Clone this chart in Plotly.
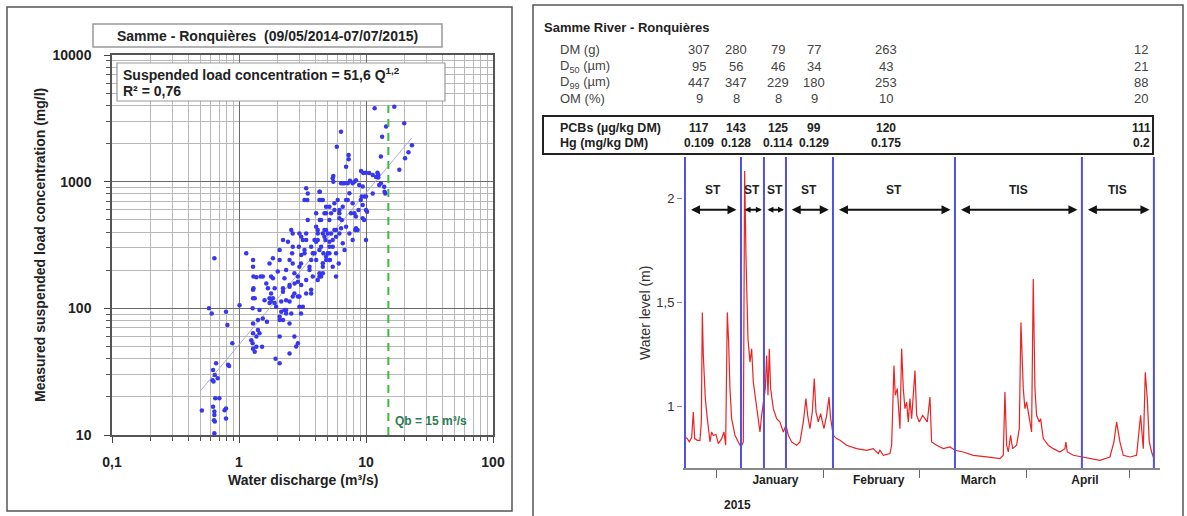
import pandas as pd
import plotly.graph_objects as go

W, H = 1187, 516
FONT = "Liberation Sans, Arial, sans-serif"


def px(x):
    return x / W


def py(y):
    return 1 - y / H


# ---------------- left panel: suspended load vs discharge ----------------
# (discharge m3/s, suspended load concentration mg/l)
ssc_samples = [
    (0.51, 15.6), (0.58, 100), (0.61, 91), (0.64, 248), (0.66, 36.8), (0.625, 32.6),
    (0.68, 28), (0.62, 27), (0.65, 19.5), (0.70, 19.5), (0.625, 16.7), (0.64, 15.3),
    (0.64, 14.4), (0.635, 13.1), (0.64, 10.3), (0.79, 16.2), (0.79, 13.5), (0.79, 94),
    (0.81, 74), (0.82, 35.8), (0.886, 53), (0.645, 29.8), (0.835, 35), (0.63, 26.4),
    (0.645, 12.8), (0.77, 15.7),
    (1.01, 106), (1.14, 272), (1.29, 241), (1.29, 213), (1.30, 178), (1.29, 140),
    (1.29, 120), (1.28, 100), (1.29, 76), (1.29, 63.5), (1.28, 53), (1.29, 48),
    (1.33, 45.5), (1.37, 49.8), (1.37, 59.8), (1.41, 67.5), (1.41, 81), (1.45, 63.5),
    (1.48, 178), (1.54, 178), (1.45, 97), (1.54, 83), (1.59, 116), (1.52, 49.8),
    (1.64, 157), (1.74, 226), (1.79, 178), (1.79, 131), (1.74, 120), (1.74, 110),
    (1.85, 120), (1.91, 110), (1.91, 144), (1.94, 40), (2.09, 36.8), (2.02, 195),
    (2.09, 241), (2.09, 60), (2.15, 94), (2.15, 113), (2.22, 81), (2.22, 135),
    (2.28, 97), (2.35, 116), (2.35, 91), (2.43, 336), (2.50, 76), (2.50, 153),
    (2.50, 44), (2.58, 415), (2.65, 390), (2.62, 272), (2.65, 226), (2.73, 189),
    (2.73, 131), (2.73, 60), (2.82, 50), (2.91, 162), (2.91, 124), (2.96, 306),
    (2.99, 390), (3.08, 226), (3.08, 91), (3.18, 103), (3.18, 346), (3.28, 272),
    (3.38, 167), (3.38, 390), (3.45, 717), (3.48, 808), (3.48, 499), (3.59, 213),
    (3.70, 131), (3.70, 306), (3.81, 272), (3.93, 346), (4.05, 441), (4.05, 241),
    (4.17, 390), (4.17, 346), (4.30, 189), (4.30, 717), (4.33, 833), (4.33, 499),
    (4.43, 306), (4.43, 178), (4.57, 390), (4.57, 213), (4.62, 272), (4.71, 415),
    (4.71, 563), (4.79, 346), (4.85, 241), (4.85, 634), (5.0, 390), (5.0, 272),
    (5.15, 306), (5.15, 499), (5.2, 241), (5.31, 563), (5.31, 390), (5.47, 346),
    (5.47, 213), (5.64, 415), (5.64, 598), (5.81, 178), (5.81, 272), (5.89, 1890),
    (5.99, 717), (6.10, 226), (6.17, 390), (6.17, 563), (6.36, 970), (6.36, 2480),
    (6.45, 499), (6.56, 634), (6.56, 326), (6.77, 289), (6.97, 441), (6.97, 1313),
    (7.18, 970), (7.18, 717), (7.30, 1623), (7.40, 390), (7.62, 563), (7.85, 675),
    (7.85, 346), (8.09, 1000), (8.23, 415), (8.33, 530), (8.59, 415), (8.74, 598),
    (8.84, 940), (9.1, 717), (9.25, 762), (9.52, 1170), (9.67, 499), (10.0, 346),
    (10.0, 762), (10.2, 580), (10.6, 1170), (11.3, 808), (11.7, 3790), (12.0, 1090),
    (12.5, 1130), (12.7, 940), (13.1, 1580), (13.4, 2260), (13.9, 910), (14.2, 808),
    (14.4, 2730), (16.7, 3900), (18.3, 1240), (20.0, 2890), (20.3, 1530), (21.6, 1710),
    (23.0, 1940),
    (1.37, 176), (1.30, 144), (1.33, 120), (1.79, 113), (1.69, 144), (1.85, 173),
    (1.85, 248), (2.09, 289), (2.22, 346), (2.65, 307), (2.50, 241), (2.35, 201),
    (2.28, 173), (2.22, 144), (1.96, 103), (2.50, 148), (2.74, 157), (2.65, 124),
    (2.99, 124), (3.09, 153), (2.91, 178), (2.99, 213), (3.09, 264), (3.28, 289),
    (3.38, 346), (3.09, 368), (3.28, 717), (3.38, 886), (4.30, 834), (4.43, 717),
    (4.05, 562), (4.43, 498), (4.85, 562), (5.15, 635), (5.64, 675), (6.17, 598),
    (6.97, 717), (7.40, 809), (7.85, 970), (6.76, 970), (5.47, 1063), (4.17, 415),
    (4.05, 336), (4.30, 289), (4.71, 368), (4.85, 415), (5.15, 336), (5.15, 272),
    (5.47, 307), (5.81, 368), (5.81, 415), (6.36, 428), (4.85, 256), (4.57, 227),
    (5.15, 241), (3.93, 272), (3.70, 241), (3.59, 201), (3.81, 178), (4.30, 178),
    (4.57, 189), (4.17, 167), (3.70, 140), (3.38, 131), (2.99, 103), (2.58, 91),
    (2.35, 97), (2.09, 86),
    (9.14, 1213), (10.0, 1178), (11.3, 1129), (12.3, 1178), (12.5, 1077), (13.1, 970),
    (14.0, 834), (5.53, 1110), (5.53, 1000), (6.56, 970), (7.48, 1018), (8.34, 1026),
    (9.42, 914), (9.71, 762), (9.42, 655), (8.10, 562), (9.42, 514), (10.0, 598),
    (8.34, 428), (6.17, 514), (4.57, 717), (7.30, 1500),
    (1.66, 78.5), (1.25, 56), (2.09, 81), (2.50, 113), (2.91, 53),
]
discharge = [q for q, _ in ssc_samples]
concentration = [c for _, c in ssc_samples]

# power-law rating: C = a * Q^b
fit_a, fit_b = 51.6, 1.2
fit_q = [0.5, 23.0]
qb = 15
qb_span = [10, 4000]

# ---------------- right panel: water level record ----------------
level_day = [  # days after 1 Jan 2015
    -9.30, -8.62, -8.04, -7.36, -6.88, -6.49, -5.72, -4.94, -4.55, -4.26,
    -3.97, -3.68, -3.39, -2.81, -2.03, -1.55, -1.07, -0.29, 0.39, 1.36,
    2.03, 2.52, 3.00, 3.39, 3.78, 4.26, 5.23, 6.20, 6.98, 7.66,
    8.04, 8.43, 9.01, 9.59, 10.08, 10.56, 11.53, 12.50, 12.98, 13.66,
    14.05, 14.44, 14.83, 15.21, 15.60, 16.38, 17.35, 18.31, 19.28, 20.06,
    20.74, 21.71, 23.16, 24.13, 25.10, 25.87, 26.36, 27.03, 27.71, 28.29,
    28.78, 29.46, 30.14, 31.10, 31.88, 32.56, 33.05, 33.81, 34.78, 35.76,
    37.69, 40.60, 43.50, 45.44, 46.90, 47.38, 48.35, 50.29, 50.78, 51.45,
    51.83, 52.42, 53.20, 53.69, 54.17, 54.65, 55.14, 55.62, 56.10, 56.59,
    57.56, 58.05, 58.82, 59.80, 60.47, 61.14, 61.92, 62.40, 63.86, 65.79,
    67.73, 69.19, 71.60, 74.50, 78.40, 82.27, 83.24, 83.72, 84.21, 84.69,
    85.37, 85.95, 87.11, 87.89, 88.37, 88.76, 89.05, 89.53, 90.02, 90.50,
    90.99, 91.47, 91.95, 92.44, 92.92, 93.70, 94.09, 94.86, 96.32, 97.77,
    99.71, 101.16, 101.45, 101.84, 103.58, 106.10, 108.43, 111.34, 114.24, 115.41,
    116.18, 116.67, 117.15, 118.12, 120.06, 122.00, 123.16, 123.94, 124.52, 125.10,
    125.68, 126.36, 127.03,
]
level_m = [
    0.853, 0.845, 0.830, 0.850, 0.973, 0.845, 0.837, 0.837, 0.925, 1.451,
    1.244, 1.120, 1.037, 0.941, 0.829, 0.877, 0.860, 0.865, 0.821, 0.845,
    0.877, 0.813, 1.451, 1.308, 1.085, 0.941, 0.861, 0.829, 0.805, 0.829,
    2.130, 1.720, 1.324, 1.212, 1.276, 1.117, 0.989, 0.877, 0.957, 1.037,
    1.085, 1.244, 1.053, 1.276, 1.085, 0.989, 0.941, 0.925, 0.877, 0.909,
    0.861, 0.829, 0.813, 0.829, 0.925, 1.037, 0.957, 0.893, 0.973, 1.133,
    0.973, 0.925, 0.965, 0.893, 0.957, 1.045, 0.941, 0.861, 0.845, 0.837,
    0.813, 0.797, 0.789, 0.797, 0.773, 0.789, 0.765, 0.773, 0.813, 1.196,
    1.053, 1.085, 0.893, 1.276, 1.085, 0.989, 1.020, 0.925, 1.037, 0.941,
    1.172, 0.957, 0.925, 0.957, 0.941, 0.925, 1.045, 0.829, 0.813, 0.797,
    0.805, 0.789, 0.781, 0.765, 0.757, 0.749, 0.765, 1.069, 0.813, 0.781,
    0.861, 0.797, 0.813, 0.893, 1.403, 1.244, 1.085, 0.989, 1.021, 0.973,
    0.925, 0.877, 1.611, 1.085, 0.957, 0.925, 0.941, 0.845, 0.813, 0.797,
    0.781, 0.797, 0.829, 0.781, 0.765, 0.757, 0.749, 0.741, 0.757, 0.829,
    0.925, 0.877, 0.829, 0.765, 0.757, 0.765, 0.957, 0.797, 1.164, 1.037,
    0.829, 0.781, 0.749,
]
assert len(level_day) == len(level_m)

# sampling period boundaries (days after 1 Jan 2015) and sampler type
period_bounds = [-9.30, 6.98, 13.66, 20.06, 33.72, 69.19, 106.10, 127.03]
period_type = ["ST", "ST", "ST", "ST", "ST", "TIS", "TIS"]

# sediment characteristics per sample
row_names = ["DM (g)", "D<sub>50</sub> (µm)", "D<sub>99</sub> (µm)", "OM (%)"]
dm_g = ["307", "280", "79", "77", "263", "12"]
d50_um = ["95", "56", "46", "34", "43", "21"]
d99_um = ["447", "347", "229", "180", "253", "88"]
om_pct = ["9", "8", "8", "9", "10", "20"]
pcb_ugkg = ["117", "143", "125", "99", "120", "111"]
hg_mgkg = ["0.109", "0.128", "0.114", "0.129", "0.175", "0.2"]

months = ["January", "February", "March", "April"]

T0 = pd.Timestamp("2015-01-01")


def day_to_date(d):
    return T0 + pd.to_timedelta(d, unit="D")


def dstr(d):
    return day_to_date(d).strftime("%Y-%m-%d %H:%M:%S")


level_dates = [day_to_date(d) for d in level_day]


def text(x, y, s, size=13, color="#222", xanchor="center", **kw):
    """Paper-positioned label given in pixel coordinates."""
    return dict(xref="paper", yref="paper", x=px(x), y=py(y), text=s,
                xanchor=xanchor, yanchor="middle", showarrow=False,
                font=dict(family=FONT, size=size, color=color), **kw)


fig = go.Figure()

# ---- left panel traces
fig.add_trace(go.Scatter(
    x=fit_q, y=[fit_a * q ** fit_b for q in fit_q], mode="lines",
    line=dict(color="rgba(165,165,215,0.9)", width=1),
    xaxis="x", yaxis="y", hoverinfo="skip", showlegend=False))
fig.add_trace(go.Scatter(
    x=discharge, y=concentration, mode="markers",
    marker=dict(size=4.5, color="rgb(55,55,240)", symbol="circle",
                line=dict(width=0)),
    xaxis="x", yaxis="y", showlegend=False))
fig.add_trace(go.Scatter(
    x=[qb, qb], y=qb_span, mode="lines",
    line=dict(color="#3dbb3d", width=2, dash="8px,6px"),
    xaxis="x", yaxis="y", hoverinfo="skip", showlegend=False))

# ---- right panel trace
fig.add_trace(go.Scatter(
    x=level_dates, y=level_m, mode="lines",
    line=dict(color="rgb(235,35,35)", width=1.2),
    xaxis="x2", yaxis="y2", showlegend=False))

shapes = []
annotations = []

# panel frames
shapes.append(dict(type="rect", xref="paper", yref="paper",
                   x0=px(7), x1=px(512), y0=py(511), y1=py(7),
                   line=dict(color="#555", width=1.5)))
shapes.append(dict(type="rect", xref="paper", yref="paper",
                   x0=px(533), x1=px(1183), y0=py(520), y1=py(5),
                   line=dict(color="#555", width=1.5)))
# title box and equation box (left)
shapes.append(dict(type="rect", xref="paper", yref="paper",
                   x0=px(93), x1=px(442), y0=py(47), y1=py(24),
                   line=dict(color="#999", width=1.5), fillcolor="white"))
shapes.append(dict(type="rect", xref="paper", yref="paper", layer="above",
                   x0=px(117), x1=px(445), y0=py(101), y1=py(63),
                   line=dict(color="#999", width=1.2), fillcolor="white"))
# contaminant table box (right)
shapes.append(dict(type="rect", xref="paper", yref="paper",
                   x0=px(543), x1=px(1153), y0=py(154), y1=py(116),
                   line=dict(color="#222", width=2)))

# sampling period boundaries
for d in period_bounds:
    shapes.append(dict(type="line", xref="x2", yref="y2 domain",
                       x0=dstr(d), x1=dstr(d), y0=0, y1=1,
                       line=dict(color="rgb(80,80,230)", width=2)))

# period arrows and labels
arrow_y, label_y = 1.944, 2.04
for i, kind in enumerate(period_type):
    a, b = period_bounds[i], period_bounds[i + 1]
    gap = min(1.3, 0.09 * (b - a))
    narrow = (b - a) < 10
    annotations.append(dict(
        xref="x2", yref="y2", axref="x2", ayref="y2",
        x=dstr(b - gap), y=arrow_y, ax=dstr(a + gap), ay=arrow_y,
        text="", showarrow=True, arrowside="end+start", arrowhead=2,
        arrowsize=0.6 if narrow else 0.9, arrowwidth=2, arrowcolor="#111",
        standoff=0, startstandoff=0))
    annotations.append(dict(
        xref="x2", yref="y2", x=dstr((a + b) / 2), y=label_y,
        xanchor="center", yanchor="middle",
        text=f"<b>{kind}</b>", showarrow=False,
        font=dict(family=FONT, size=12, color="#222")))

# left panel texts
annotations += [
    text(267.5, 35.5, "<b>Samme - Ronquières  (09/05/2014-07/07/2015)</b>", size=14),
    text(121, 74, "<b>Suspended load concentration = 51,6 Q<sup>1,2</sup></b>",
         size=14, xanchor="left"),
    text(121, 91, "<b>R² = 0,76</b>", size=14, xanchor="left"),
    text(40, 245, "<b>Measured suspended load concentration (mg/l)</b>", size=14,
         textangle=-90),
    text(303, 480, "<b>Water discharge (m³/s)</b>", size=14),
    text(393, 421, f"<b>Qb = {qb} m³/s</b>", size=12, color="#2a7d4f",
         xanchor="left"),
]

# right panel header and table
annotations.append(text(542, 28, "<b>Samme River - Ronquières</b>", size=13,
                        xanchor="left"))
row_y = [50, 66, 82, 98]
col_x = [699, 736, 778, 814, 886, 1141]
for name, ry, vals in zip(row_names, row_y, [dm_g, d50_um, d99_um, om_pct]):
    annotations.append(text(558, ry, name, size=13, color="#444", xanchor="left"))
    for cx, v in zip(col_x, vals):
        annotations.append(text(cx, ry, v, size=13, color="#444"))
for name, ry, vals in [("PCBs (µg/kg DM)", 128, pcb_ugkg),
                       ("Hg (mg/kg DM)", 143, hg_mgkg)]:
    annotations.append(text(558, ry, f"<b>{name}</b>", size=12.5, xanchor="left"))
    for cx, v in zip(col_x, vals):
        annotations.append(text(cx, ry, f"<b>{v}</b>", size=12))

annotations += [
    text(645, 313, "Water level (m)", size=14, color="#333", textangle=-90),
    text(737, 505, "<b>2015</b>", size=12),
]

log_minor_x = [k * 10.0 ** e for e in (-1, 0, 1) for k in range(2, 10)]
log_minor_y = [k * 10.0 ** e for e in (1, 2, 3) for k in range(2, 10)]
tickfont = dict(family=FONT, size=14, color="#222")

month_starts = ["2015-01-01", "2015-02-01", "2015-03-01", "2015-04-01", "2015-05-01"]
month_label_at = ["2015-01-18", "2015-02-17", "2015-03-18", "2015-04-18"]

fig.update_layout(
    width=W, height=H, autosize=False,
    margin=dict(l=0, r=0, t=0, b=0, pad=0, autoexpand=False),
    paper_bgcolor="white", plot_bgcolor="white",
    showlegend=False,
    font=dict(family=FONT),
    xaxis=dict(
        type="log", range=[-1, 2], domain=[px(112), px(493)], anchor="y",
        tickmode="array", tickvals=[0.1, 1, 10, 100],
        ticktext=["<b>0,1</b>", "<b>1</b>", "<b>10</b>", "<b>100</b>"],
        ticks="outside", ticklen=6, tickcolor="#444", tickfont=tickfont,
        ticklabelstandoff=7, automargin=False,
        showgrid=True, gridcolor="#6a6a6a", gridwidth=1,
        showline=True, linecolor="#555", linewidth=1.5, mirror=True,
        zeroline=False,
        minor=dict(tickmode="array", tickvals=log_minor_x, ticks="outside",
                   ticklen=4, tickcolor="#555", showgrid=True,
                   gridcolor="#b8b8b8", gridwidth=1)),
    yaxis=dict(
        type="log", range=[1, 4], domain=[py(435), py(55)], anchor="x",
        tickmode="array", tickvals=[10, 100, 1000, 10000],
        ticktext=["<b>10</b>", "<b>100</b>", "<b>1000</b>", "<b>10000</b>"],
        ticks="outside", ticklen=6, tickcolor="#444", tickfont=tickfont,
        ticklabelstandoff=10, automargin=False,
        showgrid=True, gridcolor="#6a6a6a", gridwidth=1,
        showline=True, linecolor="#555", linewidth=1.5, mirror=True,
        zeroline=False,
        minor=dict(tickmode="array", tickvals=log_minor_y, ticks="outside",
                   ticklen=4, tickcolor="#555", showgrid=True,
                   gridcolor="#b8b8b8", gridwidth=1)),
    xaxis2=dict(
        type="date", range=[dstr(-9.88), dstr(128.8)],
        domain=[px(683), px(1160)], anchor="y2", automargin=False,
        tickmode="array", tickvals=month_label_at,
        ticktext=[f"<b>{m}</b>" for m in months],
        ticks="", tickfont=dict(family=FONT, size=12, color="#222"),
        showgrid=False, zeroline=False,
        showline=True, linecolor="#888", linewidth=1.5,
        minor=dict(tickmode="array", tickvals=month_starts, ticks="outside",
                   ticklen=8, tickcolor="#666", tickwidth=1, showgrid=False)),
    yaxis2=dict(
        range=[0.704, 2.197], domain=[py(468), py(157)], anchor="x2",
        automargin=False,
        tickmode="array", tickvals=[1, 1.5, 2], ticktext=["1", "1,5", "2"],
        ticks="outside", ticklen=5, tickcolor="#888",
        tickfont=dict(family=FONT, size=13, color="#333"),
        showgrid=False, zeroline=False, showline=False),
    shapes=shapes,
    annotations=annotations,
)

fig.write_html("out.html")
